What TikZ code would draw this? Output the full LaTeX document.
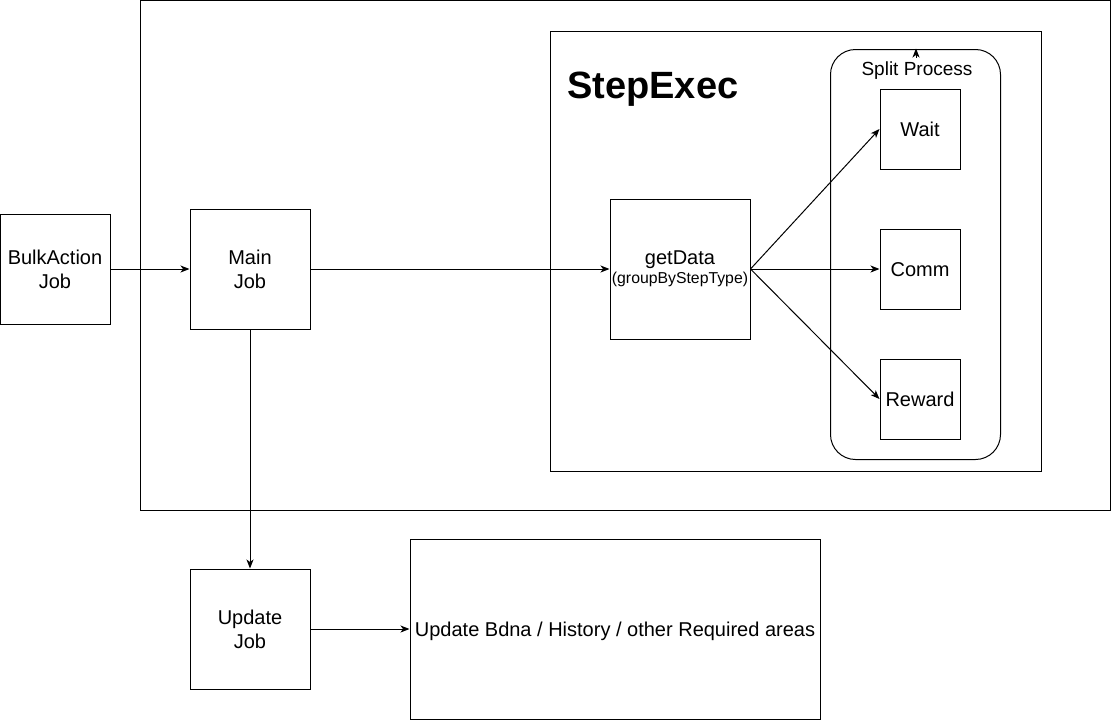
\documentclass[tikz,border=0pt]{standalone}
\usepackage{fontspec}
\setmainfont{Liberation Sans}
\usetikzlibrary{arrows.meta}
\begin{document}
\begin{tikzpicture}[x=1pt,y=-1pt,
  box/.style={draw=black,line width=1pt,fill=white},
  lbl/.style={align=center,font=\fontsize{20}{24}\selectfont},
  conn/.style={draw=black,line width=1pt,-{Stealth[length=9pt,width=7pt,inset=2.5pt]}}]
\useasboundingbox (0,0) rectangle (1111,720);
\fill[white] (0,0) rectangle (1111,720);
% containers
\draw[box] (140.5,0.5) rectangle (1110.5,510.5);
\draw[box] (550.5,31.5) rectangle (1041.5,471.5);
\node[anchor=west,font=\fontsize{38}{44}\selectfont\bfseries,inner sep=0pt] (se) at (567,89) {StepExec};
\draw[box,rounded corners=25pt] (830.5,49.5) rectangle (1000.5,459.5);
\node[font=\fontsize{19}{22}\selectfont] (sp) at (917,71) {Split Process};
\coordinate (sptop) at (916,49.5);
% nodes
\node[box,minimum width=80pt,minimum height=80pt,lbl,text depth=0pt,text height=14pt] (wait) at (920,129) {Wait};
\node[box,minimum width=80pt,minimum height=80pt,lbl,text depth=0pt,text height=14pt] (comm) at (920,269) {Comm};
\node[box,minimum width=80pt,minimum height=80pt,lbl,text depth=0pt,text height=14pt] (reward) at (920,399) {Reward};
\node[box,minimum width=140pt,minimum height=140pt,align=center,inner sep=0pt] (get) at (680,269) {{\fontsize{20}{23}\selectfont getData}\\[2pt]{\fontsize{15.8}{18}\selectfont (groupByStepType)}};
\node[box,minimum width=110pt,minimum height=110pt,lbl] (bulk) at (55,269) {BulkAction\\Job};
\node[box,minimum width=120pt,minimum height=120pt,lbl] (main) at (250,269) {Main\\Job};
\node[box,minimum width=120pt,minimum height=120pt,lbl] (upd) at (250,629) {Update\\Job};
\node[box,minimum width=410pt,minimum height=180pt,font=\fontsize{20}{24}\selectfont,text depth=0pt,text height=14pt] (bdna) at (615,629) {Update Bdna / History / other Required areas};
% connectors
\draw[conn] (bulk) -- (main);
\draw[conn] (main) -- (get);
\draw[conn] (get.east) -- (wait.west);
\draw[conn] (get.east) -- (comm.west);
\draw[conn] (get.east) -- (reward.west);
\draw[conn] (main) -- (upd);
\draw[conn] (upd) -- (bdna);
\draw[conn] ([yshift=-8pt]sptop) -- ([yshift=1pt]sptop);
\end{tikzpicture}
\end{document}
